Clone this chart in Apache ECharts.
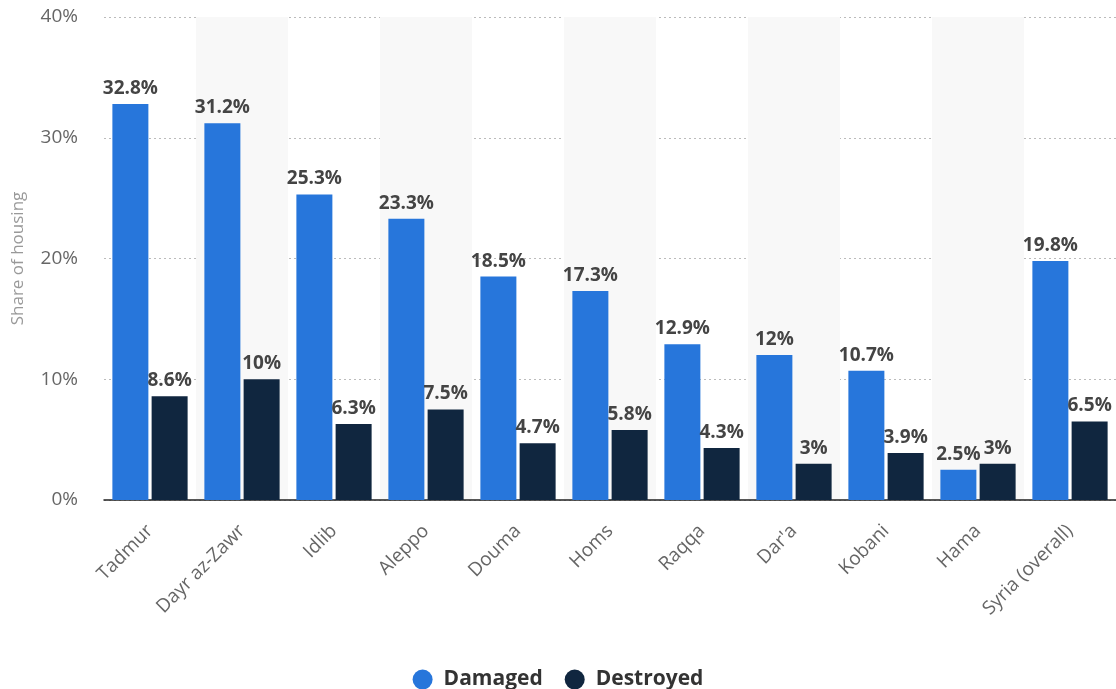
<!DOCTYPE html>
<html>
<head>
<meta charset="utf-8">
<script src="https://cdn.jsdelivr.net/npm/echarts@6/dist/echarts.min.js"></script>
<style>html,body{margin:0;padding:0;background:#fff}#c{width:1116px;height:689px}</style>
</head>
<body>
<div id="c"></div>
<script>
const categories = ['Tadmur', 'Dayr az-Zawr', 'Idlib', 'Aleppo', 'Douma', 'Homs', 'Raqqa', "Dar'a", 'Kobani', 'Hama', 'Syria (overall)'];
const damaged = [32.8, 31.2, 25.3, 23.3, 18.5, 17.3, 12.9, 12, 10.7, 2.5, 19.8];
const destroyed = [8.6, 10, 6.3, 7.5, 4.7, 5.8, 4.3, 3, 3.9, 3, 6.5];
const yTicks = [0, 10, 20, 30, 40];

const chart = echarts.init(document.getElementById('c'));
const font = '"Open Sans", sans-serif';
const labelCfg = {
  show: true, position: 'top', distance: 6,
  formatter: p => p.value + '%',
  color: '#444', fontSize: 19, fontWeight: 'bold', fontFamily: font
};
chart.setOption({
  animation: false,
  textStyle: { fontFamily: font },
  grid: { left: 104, right: 0, top: 17, bottom: 189 },
  legend: {
    top: 664, left: 'center', icon: 'circle', itemWidth: 20, itemHeight: 20, itemGap: 22,
    textStyle: { fontSize: 21, fontWeight: 'bold', color: '#333', fontFamily: font, padding: [0, 0, 0, 6] },
    data: ['Damaged', 'Destroyed']
  },
  xAxis: {
    type: 'category', data: categories,
    axisLine: { lineStyle: { color: '#222', width: 1.5 } },
    axisTick: { show: false },
    splitArea: { show: true, areaStyle: { color: ['rgba(255,255,255,0)', '#f8f8f8'] } },
    axisLabel: { rotate: 45, fontSize: 19, color: '#666', margin: 28, interval: 0, fontFamily: font }
  },
  yAxis: {
    type: 'value', min: yTicks[0], max: yTicks[yTicks.length - 1], interval: 10,
    name: 'Share of housing', nameLocation: 'middle', nameGap: 77,
    nameTextStyle: { color: '#999', fontSize: 17, fontFamily: font },
    axisLabel: { formatter: '{value}%', fontSize: 19, color: '#666', margin: 26, fontFamily: font },
    axisLine: { show: false }, axisTick: { show: false },
    splitLine: { lineStyle: { color: '#bbb', type: [2, 3] } }
  },
  series: [
    { name: 'Damaged', type: 'bar', data: damaged, barWidth: 36, barGap: '9%',
      itemStyle: { color: '#2776DB' }, label: labelCfg },
    { name: 'Destroyed', type: 'bar', data: destroyed, barWidth: 36,
      itemStyle: { color: '#10263F' }, label: labelCfg }
  ]
});
</script>
</body>
</html>
